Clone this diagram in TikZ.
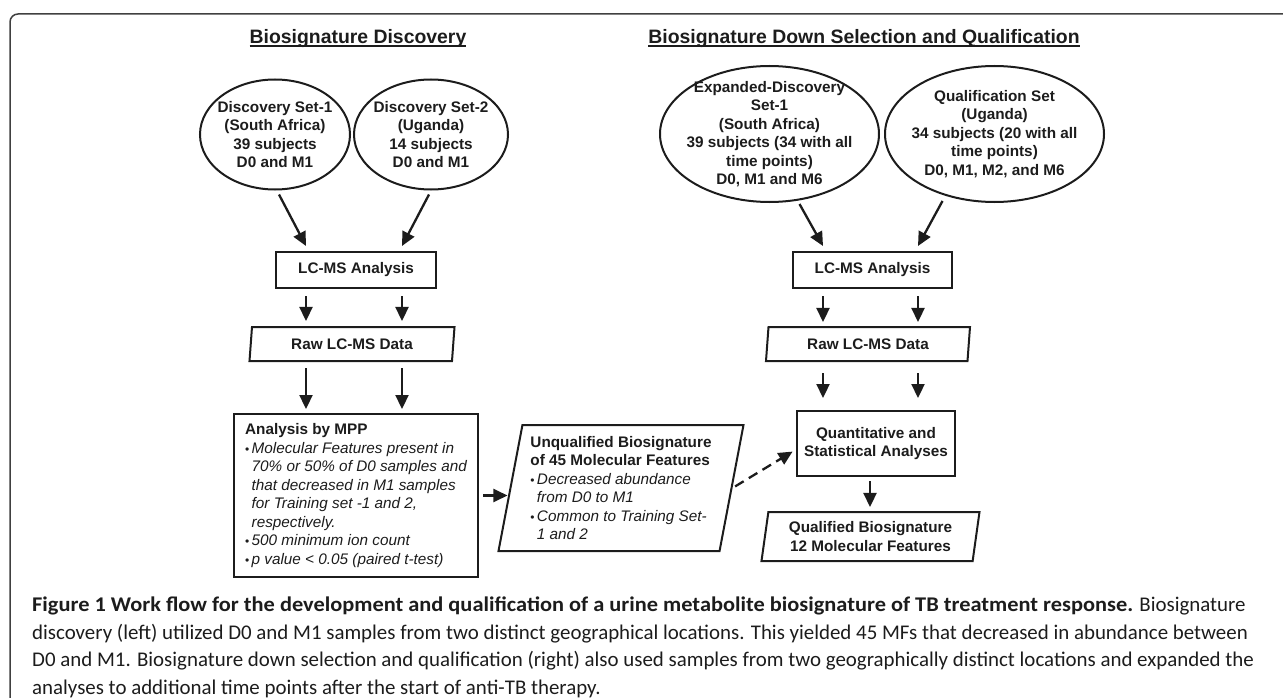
\documentclass[tikz,border=0pt]{standalone}
\usepackage{fontspec}
\setmainfont{Liberation Sans}
\newfontfamily\capfont{Carlito}[BoldFeatures={FakeStretch=1.07}]
\usetikzlibrary{positioning, calc, arrows.meta, shapes.geometric}
\definecolor{ink}{RGB}{28, 28, 28}
\definecolor{framegray}{RGB}{64, 64, 64}
\newcommand{\mfitem}[1]{{\mdseries\makebox[6.5pt][l]{\fontsize{12}{12}\selectfont\textbullet}\itshape #1}}
\newcommand{\mfcont}[1]{{\mdseries\hspace*{6.5pt}\itshape #1}}
\newcommand{\undertext}[1]{\setbox0=\hbox{#1}\rlap{\rule[-3pt]{\wd0}{1.5pt}}\box0}

\begin{document}
\begin{tikzpicture}[x=1pt, y=-1pt, every node/.style={font=\fontsize{15.3}{18.5}\selectfont\bfseries, text=ink}]
    \tikzstyle{sample} = [draw=ink, ellipse, line width=2pt, inner sep=-30pt, align=center]
    \tikzstyle{block} = [draw=ink, rectangle, line width=2pt, align=center, inner sep=0pt]
    \tikzstyle{data} = [draw=ink, trapezium, trapezium left angle=77, trapezium right angle=103, trapezium stretches body, line width=2pt, align=center, inner sep=0pt]
    \tikzstyle{arrow} = [line width=2.3pt, draw=ink, -{Triangle[length=14pt, width=13pt]}]
    \tikzstyle{heading} = [font=\fontsize{19.4}{22}\selectfont\bfseries, anchor=base]

    \useasboundingbox (0,0) rectangle (1283,698);
    \draw [framegray, line width=1.5pt, rounded corners=8pt] (10,720) -- (10,14) -- (1300,14);

    % Biosignature Discovery
    \node (headL) [heading] at (358,44) {\undertext{Biosignature Discovery}};
    \node (ds1) [sample, minimum width=150pt, minimum height=110pt] at (275,134.5) {Discovery Set-1\\(South Africa)\\39 subjects\\D0 and M1};
    \node (ds2) [sample, minimum width=154pt, minimum height=110pt] at (431,134.5) {Discovery Set-2\\(Uganda)\\14 subjects\\D0 and M1};
    \node (lcmsL) [block, minimum width=160pt, minimum height=36pt] at (356,270) {LC-MS Analysis};
    \node (rawL) [data, below of=lcmsL, node distance=74pt, xshift=-4pt, minimum width=205pt, minimum height=34pt] {Raw LC-MS Data};
    \node (mpp) [block, below of=rawL, node distance=151.5pt, xshift=4pt, align=left, minimum width=244pt, minimum height=163pt] {Analysis by MPP\\\mfitem{Molecular Features present in}\\\mfcont{70\% or 50\% of D0 samples and}\\\mfcont{that decreased in M1 samples}\\\mfcont{for Training set -1 and 2,}\\\mfcont{respectively.}\\\mfitem{500 minimum ion count}\\\mfitem{p value < 0.05 (paired t-test)}};
    \node (unq) [data, align=left, minimum width=245pt, minimum height=126pt] at (621,488) {Unqualified Biosignature\\of 45 Molecular Features\\\mfitem{Decreased abundance}\\\mfcont{from D0 to M1}\\\mfitem{Common to Training Set-}\\\mfcont{1 and 2}};

    % Biosignature Down Selection and Qualification
    \node (headR) [heading] at (864,44) {\undertext{Biosignature Down Selection and Qualification}};
    \node (eds1) [sample, minimum width=219pt, minimum height=136pt] at (769.5,134) {Expanded-Discovery\\Set-1\\(South Africa)\\39 subjects (34 with all\\time points)\\D0, M1 and M6};
    \node (qset) [sample, minimum width=219pt, minimum height=136pt] at (994.5,134) {Qualification Set\\(Uganda)\\34 subjects (20 with all\\time points)\\D0, M1, M2, and M6};
    \node (lcmsR) [block, minimum width=159pt, minimum height=36pt] at (872.5,270) {LC-MS Analysis};
    \node (rawR) [data, below of=lcmsR, node distance=74pt, xshift=-4.5pt, minimum width=204pt, minimum height=34pt] {Raw LC-MS Data};
    \node (quant) [block, below of=rawR, node distance=99.5pt, xshift=8pt, minimum width=158pt, minimum height=65pt] {Quantitative and\\Statistical Analyses};
    \node (qual) [data, below of=quant, node distance=93pt, xshift=-5.5pt, minimum width=218pt, minimum height=49pt] {Qualified Biosignature\\12 Molecular Features};

    % Caption
    \node (caption) [anchor=north west, align=left, inner sep=0pt, font=\capfont\fontsize{20.9}{27.5}\selectfont] at (32,597) {\textbf{Figure 1 Work flow for the development and qualification of a urine metabolite biosignature of TB treatment response.} Biosignature\\discovery (left) utilized D0 and M1 samples from two distinct geographical locations. This yielded 45 MFs that decreased in abundance between\\D0 and M1. Biosignature down selection and qualification (right) also used samples from two geographically distinct locations and expanded the\\analyses to additional time points after the start of anti-TB therapy.};

    % Arrows
    \foreach \nm/\dx in {a/-50, b/46} \coordinate (lL\nm) at ([xshift=\dx pt]lcmsL.south);
    \foreach \nm/\dx in {a/-49.5, b/45.5} \coordinate (rR\nm) at ([xshift=\dx pt]lcmsR.south);
    \coordinate (qq) at ([xshift=-6pt]quant.south);

    \draw [arrow] ([xshift=4pt, yshift=-4pt]ds1.south) -- ([xshift=-50pt, yshift=5pt]lcmsL.north);
    \draw [arrow] ([xshift=-2pt, yshift=-4pt]ds2.south) -- ([xshift=46pt, yshift=5pt]lcmsL.north);
    \foreach \c in {lLa, lLb} {
        \draw [arrow, shorten <=7pt, shorten >=5pt] (\c) -- (\c |- rawL.north);
        \draw [arrow, shorten <=6pt, shorten >=4pt] (\c |- rawL.south) -- (\c |- mpp.north);
    }
    \draw [arrow, shorten <=4pt, shorten >=2pt] (mpp.east) -- (mpp.east -| unq.west);

    \draw [arrow] ([xshift=30pt, yshift=-1pt]eds1.south) -- ([xshift=-49.5pt, yshift=5pt]lcmsR.north);
    \draw [arrow] ([xshift=-52pt, yshift=2pt]qset.south) -- ([xshift=45.5pt, yshift=5pt]lcmsR.north);
    \foreach \c in {rRa, rRb} {
        \draw [arrow, shorten <=7pt, shorten >=4pt] (\c) -- (\c |- rawR.north);
        \draw [arrow, shorten <=11pt, shorten >=12pt] (\c |- rawR.south) -- (\c |- quant.north);
    }
    \draw [arrow, shorten <=4pt, shorten >=4pt] (qq) -- (qq |- qual.north);
    \draw [arrow, dash pattern=on 10pt off 6pt, shorten <=3pt, shorten >=4pt] (unq.east) -- ([yshift=-6pt]quant.west);
\end{tikzpicture}
\end{document}
